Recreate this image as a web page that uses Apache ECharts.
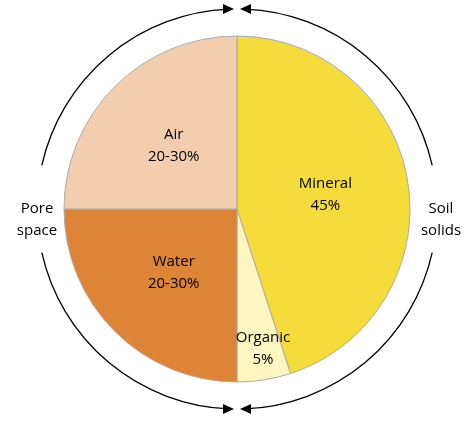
<!DOCTYPE html>
<html>
<head>
<meta charset="utf-8">
<script src="https://cdn.jsdelivr.net/npm/echarts@6/dist/echarts.min.js"></script>
<style>html,body{margin:0;padding:0;background:#fff}#main{width:474px;height:434px}</style>
</head>
<body>
<div id="main"></div>
<script>
var categories = ["Mineral", "Organic", "Water", "Air"];
var values = [45, 5, 25, 25];
var shareText = ["45%", "5%", "20-30%", "20-30%"];
var colors = ["#F5DC3A", "#FDF6C0", "#DE8436", "#F2CEAF"];

var cx = 237, cy = 209, R = 200;
var font = "15px 'Open Sans', 'Liberation Sans', sans-serif";

var data = [];
for (var i = 0; i < categories.length; i++) {
    var item = { name: categories[i], value: values[i], itemStyle: { color: colors[i] } };
    if (categories[i] == "Organic") item.label = { offset: [12, 51] };
    data.push(item);
}

function arc(a0, a1) {
    return { type: "arc", shape: { cx: cx, cy: cy, r: R, startAngle: a0, endAngle: a1 },
        style: { stroke: "#000", lineWidth: 1.3, fill: null } };
}
function tri(pts) {
    return { type: "polygon", shape: { points: pts }, style: { fill: "#000" } };
}
var P = Math.PI;
var graphics = [
    arc(-P / 2 + 0.04, -0.22), arc(0.22, P / 2 - 0.04),
    arc(P / 2 + 0.04, P - 0.22), arc(P + 0.22, 3 * P / 2 - 0.04),
    tri([[240, 9], [251, 4], [251, 14]]), tri([[234, 9], [223, 4], [223, 14]]),
    tri([[240, 409], [251, 404], [251, 414]]), tri([[234, 409], [223, 404], [223, 414]]),
    { type: "text", x: 37, y: 220, style: { text: "Pore\nspace", font: font, fill: "#000", align: "center", verticalAlign: "middle", lineHeight: 22 } },
    { type: "text", x: 441, y: 220, style: { text: "Soil\nsolids", font: font, fill: "#000", align: "center", verticalAlign: "middle", lineHeight: 22 } }
];

var chart = echarts.init(document.getElementById("main"));
chart.setOption({
    animation: false,
    graphic: graphics,
    series: [{
        type: "pie",
        center: [cx, cy],
        radius: [0, 173],
        startAngle: 90,
        clockwise: true,
        data: data,
        itemStyle: { borderColor: "#aaa", borderWidth: 1 },
        label: {
            show: true, position: "inside", color: "#000",
            fontSize: 15, fontFamily: "'Open Sans', 'Liberation Sans', sans-serif", lineHeight: 22,
            formatter: function (p) { return p.name + "\n" + shareText[p.dataIndex]; }
        },
        labelLine: { show: false },
        emphasis: { disabled: true }
    }]
});
</script>
</body>
</html>
